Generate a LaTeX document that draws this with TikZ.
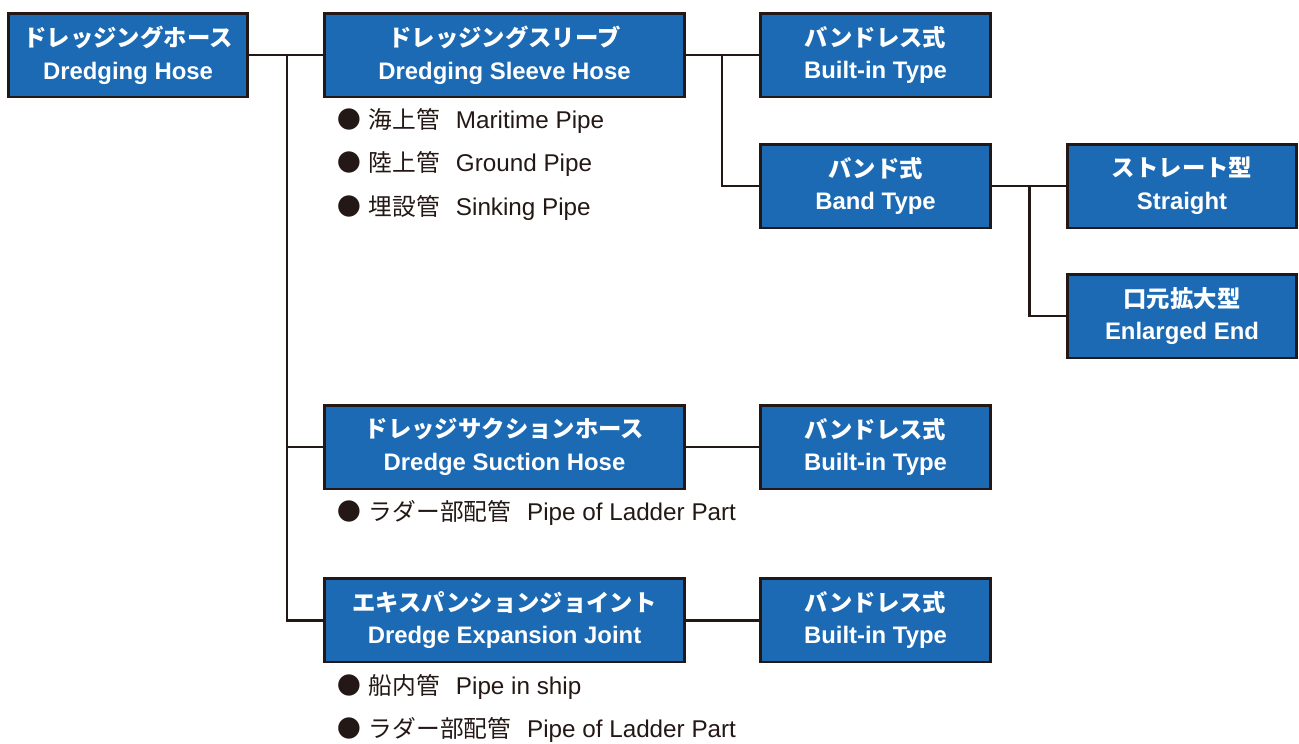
\documentclass[tikz,border=0pt]{standalone}
\usepackage{fontspec}
\setmainfont{Liberation Sans}
\newfontfamily\jpfont{Noto Sans CJK JP}
\usepackage{xcolor}
\usetikzlibrary{positioning}
\definecolor{hoseblue}{RGB}{28,106,180}
\definecolor{hoseline}{RGB}{35,24,21}

% two line label: Japanese on top, English below
\newcommand{\hoselabel}[2]{{\jpfont\bfseries\fontsize{13.3}{18.6}\selectfont #1}\\{\bfseries #2}}
% bullet line below a box
\newcommand{\pipeitem}[2]{{\jpfont\fontsize{13.5}{16}\selectfont ●\hspace{4.5pt}#1}\hspace{9pt}#2}

\begin{document}
\begin{tikzpicture}[
    x=0.02cm, y=-0.02cm,
    hosebox/.style={draw=hoseline, line width=1.7pt, fill=hoseblue, text=white,
        align=center, font=\fontsize{13.6}{18.6}\selectfont,
        minimum height=1.68cm, inner sep=0pt},
    wide/.style={hosebox, minimum width=7.2cm},
    narrow/.style={hosebox, minimum width=4.6cm},
    pipe text/.style={anchor=west, text=hoseline, font=\fontsize{13.8}{16}\selectfont, inner sep=0pt},
    branch/.style={draw=hoseline, line width=1.7pt}
]

\useasboundingbox (0,0) rectangle (1299,744);

% === Boxes ===
\node[hosebox, minimum width=4.78cm] (hose) at (128,55) {\hoselabel{ドレッジングホース}{Dredging Hose}};

\node[wide] (sleeve) at (504.5,55) {\hoselabel{ドレッジングスリーブ}{Dredging Sleeve Hose}};
\node[narrow] (sleevebuilt) at (875.5,55) {\hoselabel{バンドレス式}{Built-in Type}};
\node[narrow] (band) at (875.5,186) {\hoselabel{バンド式}{Band Type}};
\node[narrow] (straight) at (1182,186) {\hoselabel{ストレート型}{Straight}};
\node[narrow] (enlarged) at (1182,316) {\hoselabel{口元拡大型}{Enlarged End}};

\node[wide] (suction) at (504.5,447) {\hoselabel{ドレッジサクションホース}{Dredge Suction Hose}};
\node[narrow] (suctionbuilt) at (875.5,447) {\hoselabel{バンドレス式}{Built-in Type}};

\node[wide] (joint) at (504.5,620) {\hoselabel{エキスパンションジョイント}{Dredge Expansion Joint}};
\node[narrow] (jointbuilt) at (875.5,620) {\hoselabel{バンドレス式}{Built-in Type}};

% === Connectors ===
\coordinate (trunk) at (287,55);
\draw[branch] (hose.east) -- (sleeve.west);
\draw[branch] (trunk) |- (suction.west);
\draw[branch] (trunk) |- (joint.west);

\coordinate (sleevefork) at (722,55);
\draw[branch] (sleeve.east) -- (sleevebuilt.west);
\draw[branch] (sleevefork) |- (band.west);

\coordinate (bandfork) at (1029,186);
\draw[branch] (band.east) -- (straight.west);
\draw[branch] (bandfork) |- (enlarged.west);

\draw[branch] (suction.east) -- (suctionbuilt.west);
\draw[branch] (joint.east) -- (jointbuilt.west);

% === Pipe lists ===
\node[pipe text] (maritime) at (337,121) {\pipeitem{海上管}{Maritime Pipe}};
\node[pipe text] (ground) at (337,164) {\pipeitem{陸上管}{Ground Pipe}};
\node[pipe text] (sinking) at (337,208) {\pipeitem{埋設管}{Sinking Pipe}};

\node[pipe text] (ladder) at (337,513) {\pipeitem{ラダー部配管}{Pipe of Ladder Part}};

\node[pipe text] (ship) at (337,687) {\pipeitem{船内管}{Pipe in ship}};
\node[pipe text] (ladderjoint) at (337,730) {\pipeitem{ラダー部配管}{Pipe of Ladder Part}};

\end{tikzpicture}
\end{document}
